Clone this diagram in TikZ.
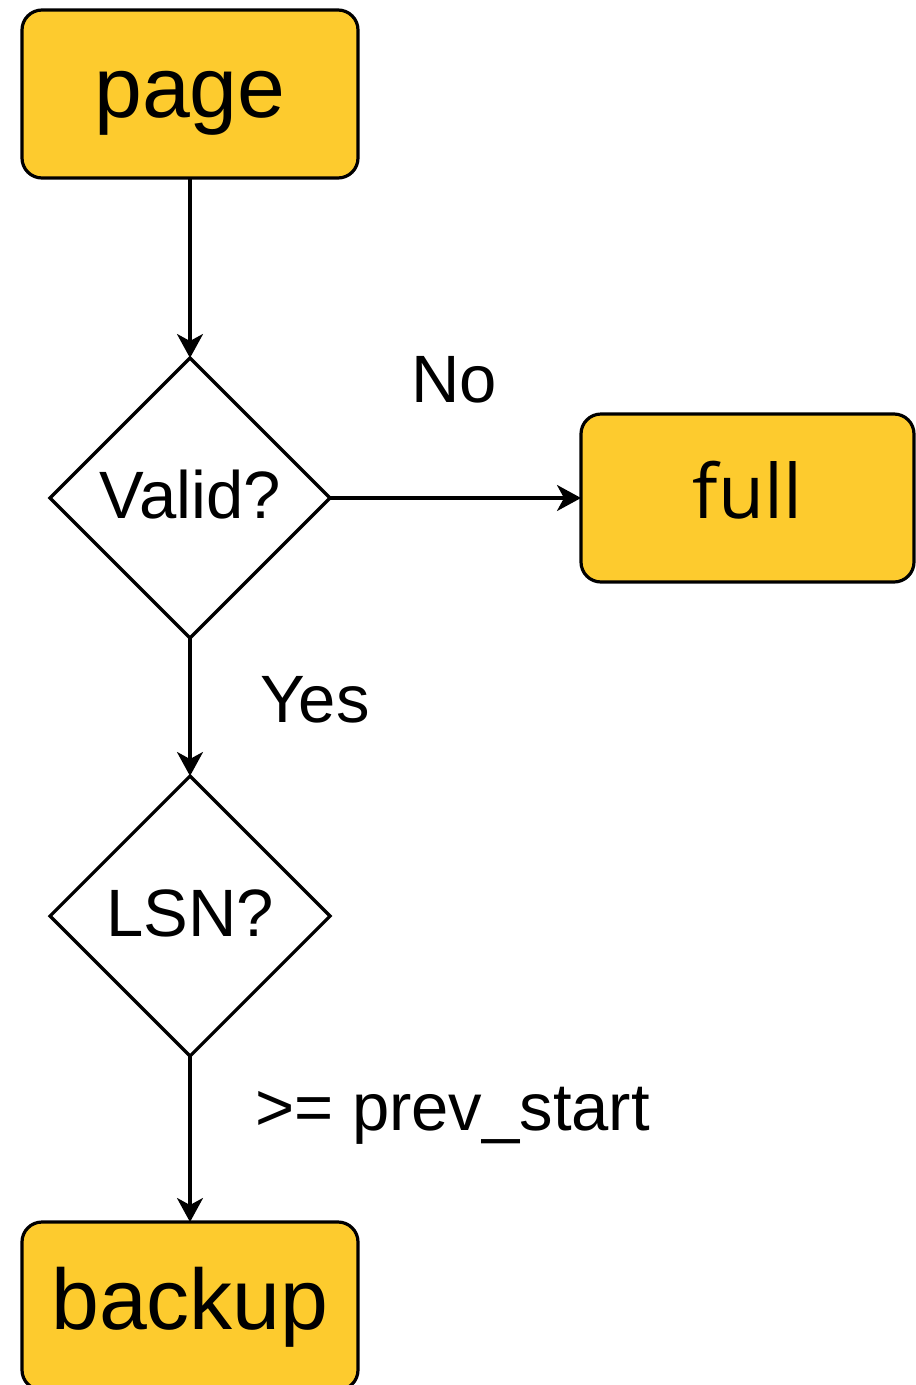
\documentclass[tikz,border=0pt]{standalone}
\usepackage{fontspec}
\setmainfont{Liberation Sans}
\newfontfamily\fullfont{Open Sans}
\usetikzlibrary{shapes.geometric,arrows.meta}
\definecolor{boxyellow}{RGB}{253,203,46}
\begin{document}
\begin{tikzpicture}[x=1pt,y=1pt,
  box/.style={draw=black, line width=3.2pt, fill=boxyellow, rounded corners=20pt,
    minimum width=336pt, minimum height=168pt, inner sep=0pt, outer sep=0pt,
    font=\fontsize{86}{90}\selectfont, text height=64pt, text depth=18pt},
  decision/.style={draw=black, line width=3.2pt, diamond, aspect=1,
    minimum width=280pt, minimum height=280pt, inner sep=0pt, outer sep=0pt,
    font=\fontsize{67}{70}\selectfont, text height=48pt, text depth=8pt},
  lbl/.style={font=\fontsize{67}{70}\selectfont, anchor=base west, inner sep=0pt},
  conn/.style={line width=3.2pt, -{Stealth[length=24pt,width=26pt,inset=7pt]}}
]
\useasboundingbox (0,0) rectangle (916,-1385);
\node[box] (page) at (190,-94) {page};
\node[decision] (valid) at (190,-498) {Valid?};
\node[box, minimum width=333pt, font=\fontsize{75}{80}\selectfont\fullfont, text height=56pt, text depth=16pt] (full) at (747.5,-498) {full};
\node[decision] (lsn) at (190,-916) {LSN?};
\node[box] (backup) at (190,-1306) {backup};
\node[lbl] (no) at (411,-402) {No};
\node[lbl] (yes) at (260,-722) {Yes};
\node[lbl] (cond) at (255,-1130) {>= prev\_start};
\draw[conn] (page.south) -- (valid.north);
\draw[conn] (valid.east) -- (full.west);
\draw[conn] (valid.south) -- (lsn.north);
\draw[conn] (lsn.south) -- (backup.north);
\end{tikzpicture}
\end{document}
